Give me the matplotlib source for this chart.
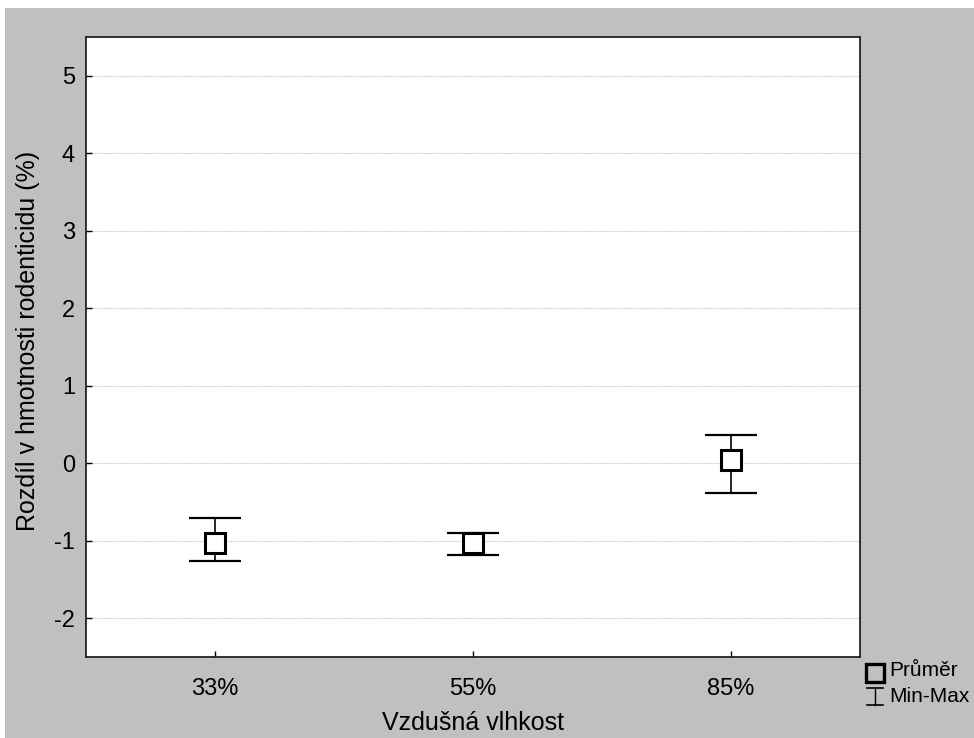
import matplotlib.pyplot as plt
import matplotlib.patches as patches
from matplotlib.lines import Line2D
import numpy as np

plt.rcParams['font.family'] = ['Liberation Sans', 'DejaVu Sans']

categories = ['33%', '55%', '85%']
means = [-1.03, -1.03, 0.04]
maxs = [-0.70, -0.90, 0.37]
mins = [-1.26, -1.18, -0.39]
yticks = [-2, -1, 0, 1, 2, 3, 4, 5]

W, H = 974, 738
fig = plt.figure(figsize=(W / 100, H / 100), dpi=100)
fig.patch.set_facecolor('white')
# gray frame behind the plot
fig.add_artist(patches.Rectangle((5 / W, 0), 1, 1 - 8 / H, transform=fig.transFigure,
                                 facecolor='#c0c0c0', edgecolor='none', zorder=-10))

ax = fig.add_axes([86 / W, 1 - 657 / H, (860 - 86) / W, (657 - 37) / H])
ax.set_facecolor('white')

x = np.arange(len(categories))
means = np.array(means)
lower = means - np.array(mins)
upper = np.array(maxs) - means

ax.errorbar(x, means, yerr=[lower, upper], fmt='none', ecolor='black',
            elinewidth=1.2, capsize=19, capthick=1.6, zorder=3)
ax.plot(x, means, linestyle='none', marker='s', markersize=14.5,
        markerfacecolor='white', markeredgecolor='black', markeredgewidth=2.2, zorder=4)

ax.set_xlim(-0.5, 2.5)
ax.set_ylim(-2.5, 5.5)
ax.set_xticks(x)
ax.set_xticklabels(categories)
ax.set_yticks(yticks)
ax.set_yticklabels([str(v) for v in yticks])
ax.tick_params(direction='in', length=4, width=1, labelsize=17, colors='black')
ax.tick_params(axis='x', pad=15)
ax.tick_params(axis='y', pad=8)
ax.yaxis.grid(True, linestyle=(0, (1, 1)), color='#c0c0c0', linewidth=0.8)
ax.set_axisbelow(True)
for s in ax.spines.values():
    s.set_linewidth(1.3)
    s.set_color('#222222')

ax.set_xlabel('Vzdušná vlhkost', fontsize=18, labelpad=8)
ax.set_ylabel('Rozdíl v hmotnosti rodenticidu (%)', fontsize=18)
ax.yaxis.set_label_coords(-0.059, 0.51)

# legend drawn in figure pixels
def fx(px):
    return px / W

def fy(py):
    return 1 - py / H

fig.add_artist(Line2D([fx(875)], [fy(672.5)], marker='s', markersize=13.5,
                      markerfacecolor='none', markeredgecolor='black', markeredgewidth=2.4,
                      transform=fig.transFigure))
fig.add_artist(Line2D([fx(875), fx(875)], [fy(688), fy(705)], color='black', lw=1.0,
                      transform=fig.transFigure))
fig.add_artist(Line2D([fx(867), fx(883)], [fy(688), fy(688)], color='black', lw=1.2,
                      transform=fig.transFigure))
fig.add_artist(Line2D([fx(867), fx(883)], [fy(705), fy(705)], color='black', lw=1.2,
                      transform=fig.transFigure))
fig.text(fx(889), fy(671), 'Průměr', fontsize=15, va='center', ha='left')
fig.text(fx(889), fy(697), 'Min-Max', fontsize=15, va='center', ha='left')

fig.savefig('out.png', dpi=100, facecolor=fig.get_facecolor())
